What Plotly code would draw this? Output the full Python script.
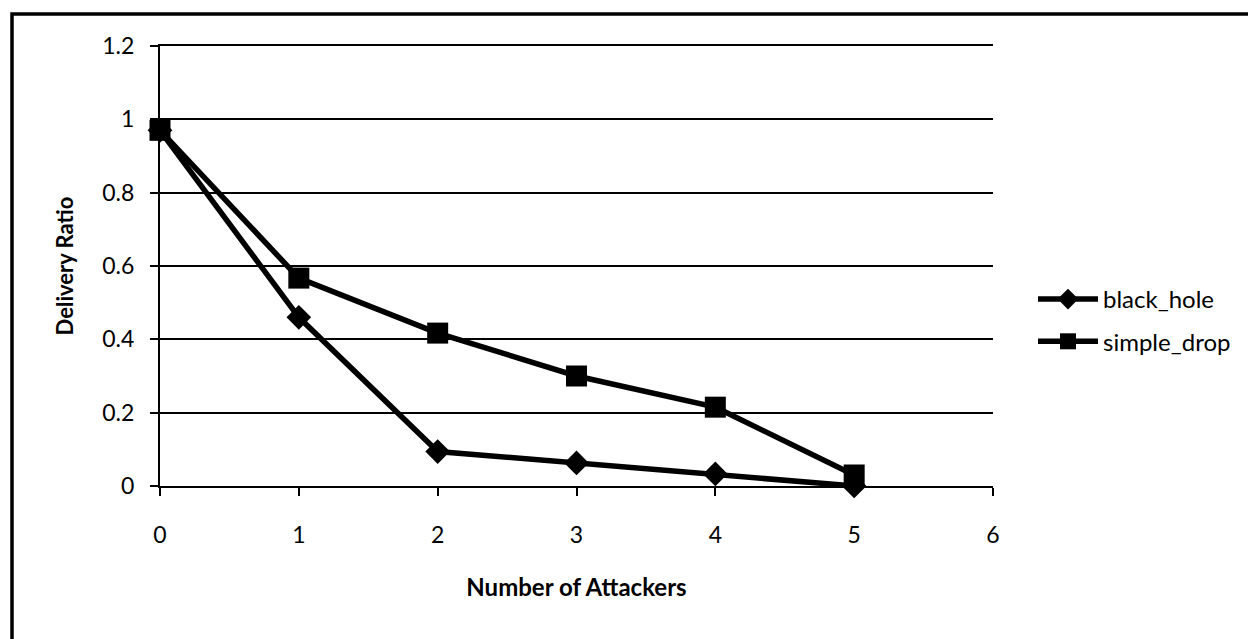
import plotly.graph_objects as go

attackers = [0, 1, 2, 3, 4, 5]
black_hole = [0.97, 0.46, 0.094, 0.063, 0.033, 0.0]
simple_drop = [0.97, 0.567, 0.417, 0.30, 0.215, 0.03]

# page has an 8px body margin, so figure coords = screen coords - 8
OFF = 8
W, H = 1256 - OFF, 639 - OFF
L, T = 160 - OFF, 46 - OFF
pw, ph = 833, 440
R, B = W - L - pw, H - T - ph

fig = go.Figure()
fig.add_trace(go.Scatter(x=attackers, y=black_hole, name="black_hole", mode="lines+markers",
                         legendgroup="a", cliponaxis=False,
                         line=dict(color="black", width=5.5),
                         marker=dict(symbol="diamond", size=19, color="black")))
fig.add_trace(go.Scatter(x=attackers, y=simple_drop, name="simple_drop", mode="lines+markers",
                         legendgroup="b", cliponaxis=False,
                         line=dict(color="black", width=5.5),
                         marker=dict(symbol="square", size=21, color="black")))

font_family = "Lato, 'Open Sans', sans-serif"
fig.update_layout(
    width=W, height=H,
    margin=dict(l=L, r=R, t=T, b=B, autoexpand=False),
    paper_bgcolor="white", plot_bgcolor="white",
    font=dict(family=font_family, color="black", size=22),
    legend=dict(x=(1025 - L) / pw, y=(H - B - (320.5 - OFF)) / ph, xanchor="left", yanchor="middle",
                font=dict(family=font_family, size=24, color="black"), itemwidth=60, tracegroupgap=8,
                bgcolor="rgba(0,0,0,0)"),
    xaxis=dict(range=[0, 6], tickmode="array", tickvals=[0, 1, 2, 3, 4, 5, 6],
               showgrid=False, zeroline=False, showline=True, linecolor="black", linewidth=2,
               mirror=True,
               ticks="outside", ticklen=8, tickwidth=1.5, tickcolor="black",
               tickfont=dict(family=font_family, size=23, color="black"),
               ticklabelstandoff=19, automargin=False,
               title=dict(text="<b>Number of Attackers</b>",
                          font=dict(family=font_family, size=24, color="black"), standoff=33)),
    yaxis=dict(range=[0, 1.2], tickmode="array", tickvals=[0, 0.2, 0.4, 0.6, 0.8, 1, 1.2],
               ticktext=["0", "0.2", "0.4", "0.6", "0.8", "1", "1.2"],
               showgrid=True, gridcolor="black", gridwidth=2, zeroline=False,
               showline=True, linecolor="black", linewidth=2,
               ticks="outside", ticklen=8, tickwidth=1.5, tickcolor="black",
               tickfont=dict(family=font_family, size=23, color="black"),
               ticklabelstandoff=11, automargin=False,
               title=dict(text="<b>Delivery Ratio</b>",
                          font=dict(family=font_family, size=22, color="black"), standoff=23)),
    showlegend=True,
)

# outer chart border (runs off the right and bottom edges)
fig.add_shape(type="rect", xref="paper", yref="paper",
              x0=(12 - OFF - L) / pw, x1=(W + 20 - L) / pw,
              y0=(H - B - (H + 20)) / ph, y1=(H - B - (14 - OFF)) / ph,
              line=dict(color="black", width=3.5), fillcolor="rgba(0,0,0,0)", layer="below")

fig.write_html("out.html")
